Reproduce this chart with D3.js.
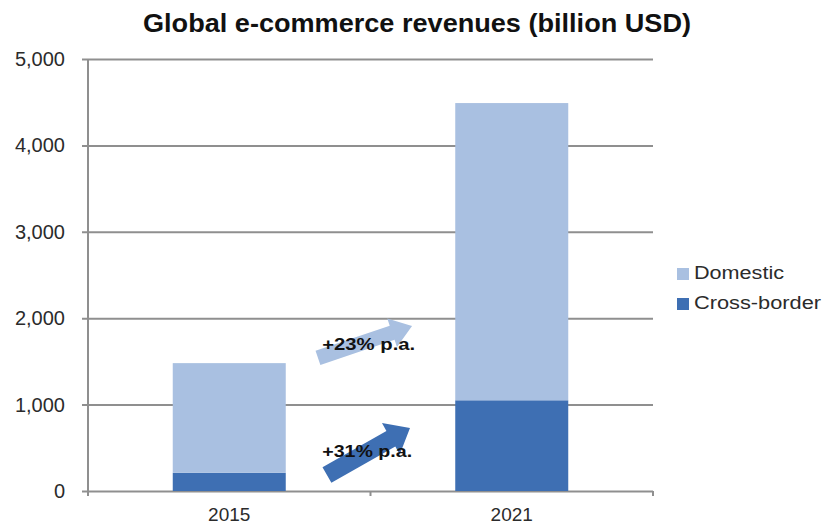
<!DOCTYPE html>
<html>
<head>
<meta charset="utf-8">
<script src="https://cdn.jsdelivr.net/npm/d3@7"></script>
<style>
  html, body { margin: 0; padding: 0; background: #ffffff; }
  svg { display: block; }
  text { font-family: "Liberation Sans", Arial, Helvetica, sans-serif; }
</style>
</head>
<body>
<svg id="chart" width="826" height="524"></svg>
<script>
// Global e-commerce revenues, billion USD
const years = ["2015", "2021"];
const crossBorder = [210, 1050];
const domestic = [1270, 3440];
const seriesNames = ["Domestic", "Cross-border"];
const yTickValues = [0, 1000, 2000, 3000, 4000, 5000];
const growthLabels = ["+23% p.a.", "+31% p.a."];
// growth arrows: value at tail and tip (billion USD)
const growthFrom = [1540, 185];
const growthTo = [1910, 730];

const colors = { "Domestic": "#a9c0e1", "Cross-border": "#3e6fb3" };

const W = 826, H = 524;
const margin = { top: 59, right: 173, bottom: 33, left: 88 };
const svg = d3.select("#chart");

const x = d3.scaleBand()
  .domain(years)
  .range([margin.left, W - margin.right])
  .paddingInner(0.6)
  .paddingOuter(0.3);

const y = d3.scaleLinear()
  .domain([0, 5000])
  .range([H - margin.bottom, margin.top]);

const gridColor = "#8f8f8f";

// horizontal gridlines with left tick marks
const yAxis = d3.axisLeft(y)
  .tickValues(yTickValues)
  .tickFormat(d3.format(","))
  .tickSize(-(W - margin.right - margin.left))
  .tickPadding(23);

const gy = svg.append("g")
  .attr("transform", `translate(${margin.left},0)`)
  .call(yAxis);
gy.select(".domain").remove();
gy.selectAll(".tick line")
  .attr("x1", -6)
  .attr("stroke", gridColor)
  .attr("stroke-width", 2);
gy.selectAll(".tick text")
  .attr("fill", "#2b2b2b")
  .style("font-size", "20px");

// vertical axis line
svg.append("line")
  .attr("x1", margin.left).attr("x2", margin.left)
  .attr("y1", y(5000)).attr("y2", y(0))
  .attr("stroke", gridColor).attr("stroke-width", 2);

// category boundaries on the baseline
const step = x.step();
const boundaries = d3.range(years.length + 1).map(i => margin.left + i * step);
svg.append("g").selectAll("line")
  .data(boundaries)
  .join("line")
  .attr("x1", d => d).attr("x2", d => d)
  .attr("y1", y(0)).attr("y2", y(0) + 5)
  .attr("stroke", gridColor).attr("stroke-width", 2);

// stacked bars
const rows = years.map((yr, i) => ({ year: yr, "Cross-border": crossBorder[i], "Domestic": domestic[i] }));
const stack = d3.stack().keys(["Cross-border", "Domestic"]);
const layers = stack(rows);

svg.append("g").selectAll("g")
  .data(layers)
  .join("g")
  .attr("fill", d => colors[d.key])
  .selectAll("rect")
  .data(d => d)
  .join("rect")
  .attr("x", d => x(d.data.year))
  .attr("width", x.bandwidth())
  .attr("y", d => y(d[1]))
  .attr("height", d => y(d[0]) - y(d[1]));

// category labels
svg.append("g").selectAll("text")
  .data(years)
  .join("text")
  .attr("x", d => x(d) + x.bandwidth() / 2)
  .attr("y", y(0) + 30)
  .attr("text-anchor", "middle")
  .attr("fill", "#2b2b2b")
  .style("font-size", "19px")
  .text(d => d);

// growth arrows between the bars
const gapStart = x(years[0]) + x.bandwidth();
const gapEnd = x(years[1]);
const gapX = f => gapStart + f * (gapEnd - gapStart);
const arrowGeom = [
  { tail: 0.19, tip: 0.745, shaft: 15, head: 30, headLen: 21 },
  { tail: 0.243, tip: 0.733, shaft: 18, head: 36, headLen: 22 }
];

function arrowPoints(x0, y0, x1, y1, w, hw, hl) {
  const len = Math.hypot(x1 - x0, y1 - y0);
  const ux = (x1 - x0) / len, uy = (y1 - y0) / len;
  const nx = -uy, ny = ux;
  const bx = x1 - ux * hl, by = y1 - uy * hl;
  return [
    [x0 + nx * w / 2, y0 + ny * w / 2],
    [bx + nx * w / 2, by + ny * w / 2],
    [bx + nx * hw / 2, by + ny * hw / 2],
    [x1, y1],
    [bx - nx * hw / 2, by - ny * hw / 2],
    [bx - nx * w / 2, by - ny * w / 2],
    [x0 - nx * w / 2, y0 - ny * w / 2]
  ];
}

const arrowData = seriesNames.map((name, i) => ({
  name,
  label: growthLabels[i],
  pts: arrowPoints(
    gapX(arrowGeom[i].tail), y(growthFrom[i]),
    gapX(arrowGeom[i].tip), y(growthTo[i]),
    arrowGeom[i].shaft, arrowGeom[i].head, arrowGeom[i].headLen)
}));

svg.append("g").selectAll("polygon")
  .data(arrowData)
  .join("polygon")
  .attr("points", d => d.pts.map(p => p.join(",")).join(" "))
  .attr("fill", d => colors[d.name]);

// growth rate labels, baseline offset from each arrow's tail
const labelOffset = [-8, -18];
svg.append("g").selectAll("text")
  .data(arrowData)
  .join("text")
  .attr("x", gapX(0.215))
  .attr("y", (d, i) => y(growthFrom[i]) + labelOffset[i])
  .attr("fill", "#111")
  .attr("font-weight", "bold")
  .style("font-size", "17px")
  .attr("textLength", (d, i) => i === 0 ? 93 : 90)
  .attr("lengthAdjust", "spacingAndGlyphs")
  .text(d => d.label);

// title
svg.append("text")
  .attr("x", 417)
  .attr("y", 32)
  .attr("text-anchor", "middle")
  .attr("font-weight", "bold")
  .attr("fill", "#111")
  .style("font-size", "25px")
  .attr("textLength", 548)
  .attr("lengthAdjust", "spacingAndGlyphs")
  .text("Global e-commerce revenues (billion USD)");

// legend
const legend = svg.append("g").attr("transform", "translate(677,268)");
const legendWidths = [90, 127];
const li = legend.selectAll("g")
  .data(seriesNames)
  .join("g")
  .attr("transform", (d, i) => `translate(0,${i * 30})`);
li.append("rect")
  .attr("width", 12).attr("height", 12)
  .attr("fill", d => colors[d]);
li.append("text")
  .attr("x", 17)
  .attr("y", 11)
  .attr("fill", "#2b2b2b")
  .style("font-size", "18px")
  .attr("textLength", (d, i) => legendWidths[i])
  .attr("lengthAdjust", "spacingAndGlyphs")
  .text(d => d);
</script>
</body>
</html>
